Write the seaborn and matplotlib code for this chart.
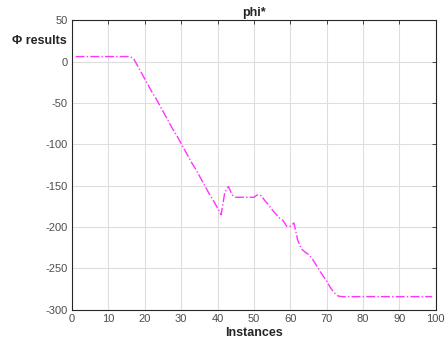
import numpy as np
import pandas as pd
import matplotlib
matplotlib.use("Agg")
import matplotlib.pyplot as plt
import seaborn as sns

# phi* value per instance
instances = list(range(1, 100))
phi = (
    [6] * 16
    + [3, -5, -13, -21, -29, -37, -44, -52, -60, -68, -76, -84, -91, -99,
       -107, -115, -123, -130, -138, -146, -154, -162, -169, -177, -185]
    + [-158, -151, -161, -164, -164, -164, -164, -164, -164, -161, -162,
       -168, -173, -179, -184, -189, -192, -199, -199, -195, -215, -226,
       -230, -233, -238, -245, -252, -259, -265, -273, -279, -283]
    + [-284] * 26
)
xticks = list(range(0, 101, 10))
yticks = list(range(-300, 51, 50))

df = pd.DataFrame({"Instances": instances, "phi": phi})

sns.set_style("whitegrid")
plt.rcParams["font.family"] = ["Liberation Sans", "DejaVu Sans"]
plt.rcParams["axes.unicode_minus"] = False

fig = plt.figure(figsize=(4.47, 3.47), dpi=100)
ax = fig.add_axes([0.161, 0.107, 0.814, 0.835])

sns.lineplot(data=df, x="Instances", y="phi", ax=ax, color="#ff33ff",
             linestyle="-.", linewidth=1.0)

ax.set_xlim(0, 100)
ax.set_ylim(-300, 50)
ax.set_xticks(xticks)
ax.set_yticks(yticks)
ax.grid(True, color="#dedede", linewidth=0.8)
for s in ax.spines.values():
    s.set_color("#262626")
    s.set_linewidth(0.8)
ax.tick_params(axis="both", direction="in", length=3, width=0.6,
               colors="#262626", labelcolor="#4d4d4d", labelsize=8,
               top=True, right=True, pad=3)

ax.set_title("phi*", fontsize=9, fontweight="bold", pad=3)
ax.set_xlabel("Instances", fontsize=9, fontweight="bold", labelpad=2)
ax.set_ylabel("\u03a6 results", fontsize=9, fontweight="bold", rotation=0,
              ha="right", va="center")
ax.yaxis.set_label_coords(-0.014, 0.928)

fig.savefig("out.png", dpi=100)
